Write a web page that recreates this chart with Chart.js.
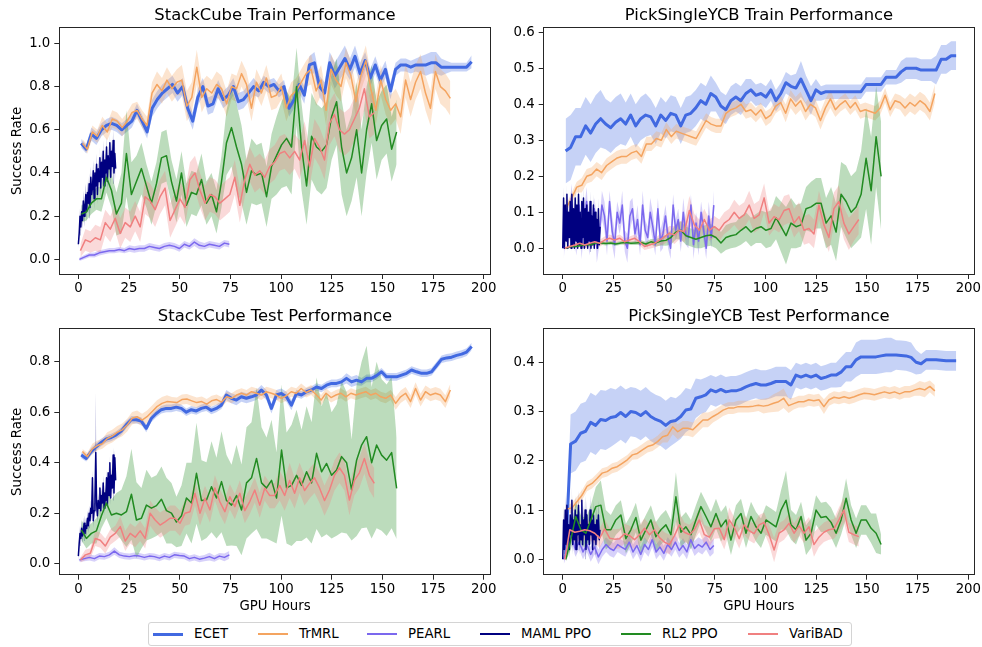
<!DOCTYPE html>
<html>
<head>
<meta charset="utf-8">
<script src="https://cdn.jsdelivr.net/npm/chart.js@4.4.1/dist/chart.umd.min.js"></script>
<style>
  html, body { margin: 0; padding: 0; background: #fff; width: 982px; height: 647px; overflow: hidden; font-family: 'DejaVu Sans', sans-serif; }
  canvas { position: absolute; }
  #legend { position: absolute; left: 148px; top: 622px; width: 704px; height: 24px; box-sizing: border-box;
            border: 1px solid #d4d4d4; border-radius: 3px; background: #fff; }
  .swatch { position: absolute; width: 30px; }
  .lbl { position: absolute; top: 3px; font-size: 13.3px; color: #000; white-space: nowrap; line-height: 16px; }
</style>
</head>
<body>
<canvas id="stackTrain" width="550" height="300" style="left:0px;top:0px"></canvas>
<canvas id="pickTrain" width="518" height="300" style="left:500px;top:0px"></canvas>
<canvas id="stackTest" width="550" height="317" style="left:0px;top:301px"></canvas>
<canvas id="pickTest" width="518" height="317" style="left:500px;top:301px"></canvas>
<div id="legend"></div>
<script>
// ---- methods and the GPU-hour span each run covers ----
const METHODS = ['ECET', 'TrMRL', 'PEARL', 'MAML PPO', 'RL2 PPO', 'VariBAD'];
const SPAN_ECET = [1.4, 194];
const SPAN_TRMRL = [2, 183.5];
const SPAN_PEARL = [0.5, 74.5];
const SPAN_MAML = [0, 18.4];
const SPAN_RL2 = [1.5, 157];
const SPAN_VARIBAD = [1, 146];

const X_TICKS = [0, 25, 50, 75, 100, 125, 150, 175, 200];
const Y_TICKS_STACK_TRAIN = [0, 0.2, 0.4, 0.6, 0.8, 1.0];
const Y_TICKS_PICK_TRAIN = [0, 0.1, 0.2, 0.3, 0.4, 0.5, 0.6];
const Y_TICKS_STACK_TEST = [0, 0.2, 0.4, 0.6, 0.8];
const Y_TICKS_PICK_TEST = [0, 0.1, 0.2, 0.3, 0.4];

// ---- StackCube train: mean success rate and spread ----
const stackTrainEcet = [0.537,0.51,0.58,0.56,0.6,0.62,0.63,0.62,0.6,0.62,0.64,0.69,0.64,0.59,0.7,0.74,0.77,0.79,0.81,0.77,0.8,0.7,0.64,0.75,0.8,0.71,0.72,0.79,0.74,0.76,0.8,0.73,0.74,0.77,0.8,0.78,0.82,0.8,0.81,0.78,0.8,0.7,0.74,0.81,0.76,0.9,0.91,0.8,0.77,0.91,0.85,0.89,0.93,0.88,0.94,0.86,0.92,0.84,0.9,0.83,0.88,0.78,0.88,0.9,0.9,0.89,0.9,0.9,0.9,0.91,0.91,0.89,0.89,0.89,0.89,0.89,0.89,0.915];
const stackTrainEcetSd = [0.02,0.02,0.03,0.03,0.03,0.03,0.03,0.03,0.03,0.03,0.03,0.03,0.03,0.03,0.04,0.04,0.04,0.04,0.04,0.04,0.04,0.04,0.04,0.04,0.04,0.04,0.04,0.04,0.04,0.04,0.04,0.04,0.04,0.04,0.04,0.03,0.03,0.03,0.03,0.03,0.03,0.04,0.04,0.04,0.04,0.04,0.05,0.05,0.05,0.05,0.06,0.06,0.06,0.05,0.05,0.05,0.04,0.04,0.04,0.04,0.04,0.04,0.03,0.03,0.03,0.03,0.03,0.04,0.05,0.05,0.05,0.04,0.03,0.02,0.02,0.02,0.02,0.03];
const stackTrainTrmrl = [0.537,0.51,0.59,0.57,0.62,0.59,0.65,0.64,0.61,0.64,0.68,0.69,0.65,0.62,0.77,0.81,0.78,0.83,0.79,0.82,0.83,0.71,0.75,0.89,0.75,0.79,0.77,0.81,0.79,0.72,0.8,0.79,0.86,0.81,0.7,0.82,0.77,0.84,0.75,0.76,0.8,0.7,0.76,0.78,0.82,0.86,0.88,0.78,0.83,0.69,0.88,0.83,0.8,0.91,0.85,0.73,0.85,0.92,0.79,0.69,0.83,0.74,0.69,0.72,0.66,0.83,0.74,0.82,0.87,0.77,0.7,0.87,0.8,0.78,0.745];
const stackTrainTrmrlSd = [0.02,0.02,0.03,0.03,0.04,0.04,0.04,0.04,0.04,0.04,0.04,0.04,0.04,0.04,0.05,0.06,0.06,0.06,0.06,0.06,0.07,0.07,0.07,0.08,0.07,0.06,0.06,0.06,0.06,0.06,0.06,0.06,0.06,0.06,0.06,0.06,0.06,0.06,0.06,0.06,0.06,0.06,0.06,0.06,0.06,0.06,0.07,0.07,0.07,0.07,0.07,0.07,0.07,0.07,0.07,0.07,0.07,0.07,0.07,0.07,0.07,0.07,0.07,0.07,0.08,0.08,0.08,0.08,0.08,0.08,0.08,0.08,0.08,0.08,0.08];
const stackTrainPearl = [0.0,0.01,0.02,0.02,0.03,0.035,0.04,0.04,0.045,0.04,0.05,0.045,0.05,0.05,0.06,0.055,0.05,0.06,0.065,0.06,0.05,0.07,0.06,0.08,0.065,0.06,0.07,0.065,0.06,0.075,0.07];
const stackTrainPearlSd = [0.008,0.01,0.01,0.012,0.012,0.012,0.012,0.012,0.012,0.012,0.015,0.015,0.015,0.015,0.015,0.015,0.015,0.015,0.015,0.015,0.015,0.015,0.015,0.018,0.018,0.015,0.015,0.015,0.015,0.015,0.015];
const stackTrainMaml = [0.07,0.12,0.2,0.15,0.22,0.18,0.27,0.2,0.25,0.3,0.22,0.31,0.26,0.35,0.24,0.38,0.3,0.33,0.41,0.28,0.4,0.34,0.44,0.3,0.42,0.36,0.47,0.33,0.45,0.38,0.5,0.34,0.46,0.4,0.52,0.36,0.48,0.42,0.54,0.38,0.5,0.43,0.55,0.4,0.49,0.42];
const stackTrainMamlSd = [0.02,0.03,0.04,0.04,0.04,0.04,0.05,0.05,0.05,0.05,0.05,0.05,0.05,0.05,0.05,0.05,0.05,0.05,0.05,0.05,0.05,0.05,0.05,0.05,0.05,0.05,0.05,0.05,0.05,0.05,0.05,0.05,0.05,0.05,0.05,0.05,0.05,0.05,0.05,0.05,0.05,0.05,0.05,0.05,0.05,0.05];
const stackTrainRl2 = [0.21,0.22,0.26,0.28,0.28,0.38,0.32,0.21,0.26,0.49,0.3,0.36,0.42,0.34,0.26,0.35,0.47,0.48,0.36,0.27,0.4,0.25,0.31,0.3,0.37,0.26,0.3,0.22,0.36,0.54,0.61,0.52,0.44,0.31,0.41,0.39,0.4,0.29,0.43,0.48,0.53,0.56,0.52,0.8,0.52,0.34,0.57,0.52,0.5,0.53,0.66,0.73,0.52,0.4,0.47,0.6,0.4,0.6,0.72,0.55,0.62,0.65,0.51,0.59];
const stackTrainRl2Sd = [0.04,0.04,0.05,0.05,0.06,0.07,0.08,0.1,0.14,0.2,0.15,0.12,0.12,0.1,0.1,0.1,0.12,0.12,0.1,0.1,0.1,0.1,0.1,0.1,0.12,0.1,0.1,0.1,0.12,0.15,0.18,0.2,0.18,0.15,0.15,0.14,0.14,0.14,0.15,0.18,0.2,0.22,0.22,0.18,0.2,0.18,0.2,0.2,0.2,0.2,0.2,0.2,0.22,0.2,0.2,0.22,0.2,0.2,0.18,0.18,0.16,0.16,0.15,0.15];
const stackTrainVaribad = [0.04,0.09,0.08,0.1,0.09,0.17,0.14,0.19,0.12,0.17,0.15,0.2,0.15,0.29,0.27,0.23,0.29,0.33,0.18,0.23,0.28,0.24,0.37,0.4,0.32,0.26,0.3,0.29,0.26,0.28,0.3,0.38,0.25,0.37,0.44,0.39,0.41,0.38,0.43,0.45,0.49,0.5,0.47,0.5,0.46,0.55,0.43,0.56,0.52,0.46,0.63,0.67,0.6,0.58,0.6,0.65,0.7,0.79,0.66,0.68];
const stackTrainVaribadSd = [0.03,0.05,0.05,0.06,0.06,0.06,0.06,0.06,0.07,0.07,0.07,0.07,0.07,0.08,0.08,0.08,0.08,0.08,0.08,0.08,0.08,0.08,0.08,0.08,0.08,0.08,0.08,0.08,0.08,0.08,0.08,0.08,0.08,0.08,0.08,0.08,0.08,0.08,0.08,0.08,0.08,0.08,0.08,0.08,0.09,0.09,0.09,0.09,0.09,0.09,0.1,0.1,0.1,0.1,0.1,0.1,0.1,0.1,0.1,0.1];

// ---- PickSingleYCB train ----
const pickTrainEcet = [0.27,0.28,0.31,0.31,0.34,0.32,0.345,0.36,0.345,0.335,0.35,0.36,0.345,0.37,0.34,0.36,0.37,0.365,0.34,0.37,0.355,0.375,0.37,0.34,0.37,0.375,0.39,0.41,0.4,0.43,0.42,0.395,0.385,0.41,0.42,0.41,0.43,0.44,0.425,0.43,0.42,0.44,0.41,0.43,0.46,0.45,0.445,0.47,0.44,0.41,0.44,0.43,0.435,0.435,0.435,0.435,0.435,0.435,0.435,0.435,0.455,0.455,0.455,0.455,0.475,0.475,0.475,0.49,0.5,0.5,0.5,0.495,0.495,0.495,0.495,0.525,0.525,0.535,0.535];
const pickTrainEcetSd = [0.09,0.09,0.08,0.08,0.08,0.08,0.08,0.08,0.07,0.07,0.07,0.07,0.06,0.06,0.06,0.06,0.06,0.05,0.05,0.05,0.05,0.05,0.05,0.05,0.05,0.05,0.05,0.05,0.05,0.05,0.04,0.04,0.04,0.04,0.04,0.04,0.04,0.03,0.03,0.03,0.03,0.03,0.03,0.03,0.03,0.03,0.04,0.05,0.04,0.04,0.03,0.02,0.02,0.02,0.02,0.02,0.02,0.02,0.02,0.02,0.02,0.02,0.02,0.02,0.02,0.02,0.02,0.03,0.03,0.03,0.03,0.03,0.03,0.03,0.04,0.04,0.04,0.04,0.04];
const pickTrainTrmrl = [0.115,0.14,0.17,0.175,0.2,0.205,0.22,0.21,0.23,0.24,0.25,0.255,0.255,0.265,0.27,0.255,0.29,0.29,0.305,0.3,0.33,0.31,0.325,0.32,0.315,0.31,0.305,0.33,0.355,0.345,0.34,0.34,0.375,0.385,0.39,0.4,0.38,0.385,0.37,0.385,0.36,0.37,0.395,0.405,0.375,0.415,0.395,0.41,0.38,0.4,0.39,0.355,0.39,0.415,0.385,0.4,0.41,0.39,0.405,0.38,0.385,0.38,0.375,0.39,0.425,0.385,0.41,0.405,0.39,0.405,0.395,0.41,0.4,0.38,0.43];
const pickTrainTrmrlSd = [0.01,0.015,0.015,0.02,0.02,0.02,0.02,0.02,0.02,0.02,0.02,0.02,0.02,0.02,0.02,0.02,0.02,0.02,0.02,0.02,0.02,0.02,0.02,0.02,0.02,0.02,0.02,0.02,0.02,0.02,0.02,0.02,0.02,0.02,0.02,0.02,0.02,0.02,0.02,0.02,0.02,0.02,0.02,0.02,0.025,0.025,0.025,0.025,0.025,0.025,0.025,0.025,0.025,0.025,0.02,0.02,0.02,0.02,0.02,0.02,0.02,0.02,0.02,0.02,0.02,0.02,0.02,0.02,0.025,0.025,0.025,0.025,0.025,0.025,0.025];
const pickTrainPearl = [0.0,0.1,0.03,0.14,0.05,0.02,0.12,0.01,0.08,0.13,0.02,0.06,0.11,0.0,0.04,0.12,0.09,0.02,0.13,0.05,0.01,0.1,0.07,0.12,0.02,0.0,0.09,0.11,0.04,0.08,0.01,0.12,0.05,0.03,0.1,0.06,0.01,0.11,0.02,0.04,0.09,0.03,0.0,0.12,0.05,0.08,0.02,0.1,0.04,0.03,0.12,0.01,0.07,0.02,0.1,0.05,0.0,0.09,0.03,0.12];
const pickTrainPearlSd = [0.03,0.04,0.03,0.04,0.03,0.04,0.03,0.04,0.03,0.04,0.04,0.04,0.03,0.04,0.03,0.04,0.04,0.04,0.03,0.04,0.04,0.03,0.03,0.04,0.03,0.04,0.04,0.03,0.03,0.04,0.03,0.04,0.03,0.03,0.04,0.04,0.03,0.03,0.03,0.04,0.03,0.03,0.03,0.03,0.03,0.03,0.03,0.04,0.03,0.03,0.03,0.04,0.03,0.04,0.03,0.03,0.03,0.04,0.03,0.04];
const pickTrainMaml = [0.0,0.14,0.0,0.12,0.02,0.15,0.0,0.1,0.03,0.13,0.0,0.15,0.01,0.11,0.0,0.14,0.02,0.12,0.0,0.15,0.01,0.1,0.0,0.13,0.03,0.14,0.0,0.11,0.01,0.12,0.0,0.1,0.02,0.13,0.0,0.09,0.01,0.12,0.0,0.1,0.02,0.08,0.0,0.11,0.01,0.06];
const pickTrainMamlSd = [0.01,0.03,0.01,0.03,0.01,0.03,0.01,0.03,0.01,0.03,0.01,0.03,0.01,0.03,0.01,0.03,0.01,0.03,0.01,0.03,0.01,0.03,0.01,0.03,0.01,0.03,0.01,0.03,0.01,0.03,0.01,0.03,0.01,0.03,0.01,0.03,0.01,0.03,0.01,0.03,0.01,0.03,0.01,0.03,0.01,0.02];
const pickTrainRl2 = [0.0,0.005,0.005,0.008,0.01,0.01,0.015,0.015,0.013,0.015,0.012,0.015,0.016,0.014,0.015,0.016,0.012,0.018,0.015,0.02,0.022,0.03,0.045,0.05,0.035,0.03,0.025,0.03,0.035,0.037,0.03,0.015,0.03,0.035,0.038,0.05,0.06,0.045,0.055,0.06,0.05,0.055,0.085,0.06,0.035,0.07,0.06,0.065,0.11,0.115,0.125,0.125,0.07,0.09,0.045,0.15,0.13,0.1,0.115,0.15,0.25,0.16,0.31,0.2];
const pickTrainRl2Sd = [0.002,0.003,0.003,0.004,0.004,0.005,0.005,0.005,0.005,0.005,0.005,0.005,0.005,0.005,0.006,0.006,0.006,0.008,0.01,0.012,0.015,0.02,0.02,0.025,0.025,0.025,0.025,0.03,0.03,0.03,0.03,0.03,0.035,0.035,0.035,0.04,0.04,0.04,0.04,0.045,0.05,0.05,0.06,0.07,0.08,0.07,0.06,0.06,0.06,0.07,0.07,0.07,0.07,0.08,0.08,0.09,0.1,0.1,0.1,0.12,0.14,0.15,0.14,0.15];
const pickTrainVaribad = [0.0,0.005,0.009,0.014,0.009,0.014,0.018,0.014,0.023,0.028,0.023,0.028,0.018,0.023,0.028,0.018,0.005,0.009,0.014,0.023,0.032,0.042,0.037,0.05,0.046,0.105,0.065,0.05,0.08,0.05,0.06,0.05,0.07,0.08,0.1,0.083,0.093,0.12,0.083,0.093,0.14,0.07,0.088,0.079,0.105,0.11,0.07,0.088,0.05,0.055,0.04,0.12,0.065,0.03,0.11,0.13,0.07,0.04,0.06,0.08];
const pickTrainVaribadSd = [0.003,0.005,0.006,0.008,0.008,0.008,0.01,0.01,0.01,0.01,0.01,0.01,0.01,0.01,0.01,0.01,0.01,0.01,0.012,0.015,0.02,0.02,0.025,0.025,0.03,0.04,0.03,0.03,0.03,0.03,0.03,0.03,0.03,0.03,0.035,0.035,0.035,0.04,0.04,0.04,0.04,0.035,0.035,0.035,0.04,0.04,0.04,0.04,0.04,0.04,0.04,0.04,0.04,0.04,0.045,0.045,0.045,0.045,0.04,0.04];

// ---- StackCube test ----
const stackTestEcet = [0.43,0.417,0.444,0.463,0.48,0.494,0.5,0.51,0.525,0.55,0.57,0.57,0.565,0.536,0.575,0.595,0.61,0.615,0.615,0.62,0.615,0.6,0.61,0.605,0.615,0.62,0.607,0.615,0.628,0.668,0.655,0.648,0.661,0.655,0.661,0.668,0.688,0.668,0.615,0.668,0.674,0.661,0.628,0.674,0.668,0.681,0.688,0.7,0.694,0.707,0.714,0.714,0.72,0.734,0.72,0.727,0.72,0.734,0.734,0.745,0.76,0.74,0.74,0.74,0.747,0.754,0.767,0.76,0.754,0.754,0.76,0.785,0.81,0.815,0.818,0.825,0.83,0.838,0.86];
const stackTestEcetSd = [0.012,0.012,0.015,0.015,0.015,0.015,0.015,0.015,0.015,0.015,0.015,0.015,0.015,0.015,0.015,0.015,0.015,0.015,0.015,0.015,0.015,0.015,0.015,0.015,0.015,0.015,0.015,0.015,0.015,0.02,0.02,0.02,0.02,0.02,0.02,0.02,0.02,0.02,0.02,0.02,0.02,0.02,0.02,0.015,0.015,0.015,0.015,0.015,0.015,0.015,0.015,0.015,0.015,0.02,0.02,0.02,0.015,0.015,0.015,0.015,0.015,0.015,0.015,0.015,0.015,0.015,0.015,0.015,0.015,0.015,0.015,0.015,0.015,0.015,0.015,0.015,0.015,0.015,0.015];
const stackTestTrmrl = [0.444,0.424,0.455,0.468,0.475,0.496,0.505,0.52,0.53,0.549,0.576,0.582,0.569,0.582,0.602,0.622,0.635,0.642,0.64,0.638,0.65,0.652,0.645,0.638,0.642,0.632,0.645,0.65,0.64,0.661,0.655,0.668,0.675,0.668,0.681,0.675,0.668,0.681,0.675,0.668,0.655,0.665,0.681,0.675,0.694,0.678,0.688,0.67,0.648,0.675,0.658,0.668,0.675,0.661,0.675,0.668,0.675,0.681,0.668,0.675,0.661,0.655,0.668,0.635,0.661,0.675,0.642,0.694,0.648,0.681,0.668,0.675,0.668,0.642,0.688];
const stackTestTrmrlSd = [0.01,0.015,0.02,0.02,0.02,0.025,0.025,0.025,0.025,0.025,0.025,0.025,0.025,0.025,0.025,0.025,0.025,0.025,0.02,0.02,0.02,0.02,0.02,0.02,0.02,0.02,0.02,0.02,0.02,0.02,0.02,0.02,0.02,0.02,0.02,0.02,0.02,0.02,0.02,0.02,0.02,0.02,0.02,0.02,0.02,0.02,0.02,0.02,0.02,0.02,0.02,0.02,0.02,0.02,0.02,0.02,0.02,0.02,0.02,0.02,0.02,0.02,0.02,0.025,0.025,0.025,0.025,0.025,0.025,0.025,0.025,0.025,0.025,0.025,0.025];
const stackTestPearl = [0.015,0.02,0.025,0.02,0.03,0.028,0.035,0.05,0.035,0.03,0.028,0.032,0.03,0.025,0.03,0.028,0.022,0.03,0.025,0.035,0.032,0.03,0.02,0.025,0.018,0.022,0.028,0.02,0.03,0.025,0.035];
const stackTestPearlSd = [0.008,0.01,0.012,0.012,0.012,0.012,0.012,0.015,0.012,0.012,0.012,0.012,0.012,0.012,0.012,0.012,0.012,0.012,0.012,0.012,0.012,0.012,0.012,0.012,0.012,0.012,0.015,0.012,0.012,0.015,0.015];
const stackTestMaml = [0.03,0.08,0.12,0.1,0.14,0.11,0.13,0.16,0.12,0.15,0.14,0.18,0.15,0.2,0.17,0.22,0.2,0.34,0.17,0.21,0.26,0.44,0.24,0.19,0.25,0.22,0.3,0.21,0.27,0.24,0.32,0.22,0.28,0.25,0.34,0.23,0.36,0.27,0.4,0.26,0.35,0.3,0.43,0.28,0.42,0.33];
const stackTestMamlSd = [0.02,0.03,0.03,0.03,0.03,0.03,0.03,0.03,0.03,0.03,0.03,0.03,0.03,0.03,0.03,0.03,0.03,0.03,0.03,0.03,0.03,0.24,0.03,0.03,0.03,0.03,0.03,0.03,0.03,0.03,0.03,0.03,0.03,0.03,0.03,0.03,0.03,0.03,0.03,0.03,0.03,0.03,0.03,0.03,0.03,0.03];
const stackTestRl2 = [0.133,0.1,0.12,0.13,0.19,0.24,0.193,0.2,0.193,0.206,0.275,0.173,0.18,0.232,0.22,0.23,0.255,0.21,0.2,0.165,0.19,0.26,0.24,0.358,0.25,0.252,0.305,0.26,0.325,0.25,0.232,0.27,0.213,0.32,0.34,0.417,0.32,0.3,0.33,0.26,0.45,0.3,0.31,0.35,0.31,0.364,0.32,0.437,0.364,0.397,0.35,0.371,0.424,0.4,0.292,0.41,0.47,0.503,0.4,0.47,0.43,0.41,0.44,0.298];
const stackTestRl2Sd = [0.04,0.04,0.04,0.05,0.05,0.06,0.06,0.08,0.1,0.14,0.18,0.15,0.12,0.14,0.12,0.12,0.13,0.13,0.12,0.1,0.12,0.14,0.16,0.2,0.16,0.15,0.18,0.16,0.2,0.18,0.16,0.2,0.18,0.22,0.22,0.28,0.22,0.2,0.24,0.18,0.26,0.22,0.24,0.26,0.22,0.26,0.24,0.3,0.26,0.28,0.25,0.26,0.3,0.28,0.2,0.3,0.33,0.36,0.3,0.33,0.3,0.3,0.3,0.2];
const stackTestVaribad = [0.015,0.035,0.041,0.1,0.093,0.07,0.105,0.12,0.147,0.09,0.12,0.105,0.13,0.1,0.2,0.173,0.153,0.166,0.18,0.18,0.16,0.2,0.206,0.279,0.2,0.259,0.213,0.3,0.245,0.206,0.265,0.226,0.279,0.21,0.246,0.292,0.232,0.299,0.27,0.27,0.31,0.27,0.33,0.279,0.34,0.29,0.318,0.34,0.3,0.25,0.292,0.35,0.38,0.35,0.252,0.33,0.36,0.417,0.35,0.318];
const stackTestVaribadSd = [0.01,0.02,0.02,0.03,0.03,0.03,0.03,0.03,0.04,0.04,0.04,0.04,0.04,0.04,0.05,0.05,0.05,0.05,0.05,0.05,0.05,0.05,0.05,0.05,0.05,0.05,0.05,0.05,0.05,0.05,0.05,0.05,0.05,0.05,0.05,0.05,0.05,0.05,0.05,0.05,0.06,0.06,0.07,0.06,0.06,0.06,0.06,0.06,0.06,0.06,0.06,0.06,0.06,0.06,0.06,0.06,0.06,0.06,0.06,0.06];

// ---- PickSingleYCB test ----
const pickTestEcet = [0.01,0.234,0.24,0.256,0.26,0.278,0.272,0.284,0.282,0.288,0.29,0.298,0.29,0.3,0.298,0.292,0.3,0.29,0.284,0.28,0.272,0.28,0.282,0.29,0.303,0.305,0.327,0.33,0.334,0.344,0.34,0.345,0.34,0.342,0.342,0.345,0.35,0.354,0.357,0.354,0.354,0.357,0.361,0.361,0.361,0.354,0.374,0.37,0.374,0.37,0.374,0.367,0.37,0.374,0.374,0.38,0.391,0.391,0.405,0.411,0.411,0.411,0.411,0.413,0.415,0.415,0.415,0.414,0.413,0.41,0.4,0.397,0.405,0.405,0.405,0.404,0.403,0.403,0.403];
const pickTestEcetSd = [0.01,0.06,0.06,0.06,0.06,0.06,0.06,0.06,0.06,0.06,0.055,0.055,0.055,0.05,0.05,0.05,0.05,0.05,0.05,0.05,0.05,0.05,0.045,0.045,0.045,0.04,0.04,0.035,0.035,0.03,0.03,0.03,0.03,0.03,0.03,0.03,0.03,0.03,0.03,0.03,0.03,0.03,0.03,0.03,0.03,0.03,0.025,0.025,0.025,0.025,0.025,0.025,0.025,0.025,0.025,0.03,0.03,0.03,0.035,0.035,0.035,0.035,0.035,0.035,0.035,0.035,0.03,0.03,0.03,0.03,0.025,0.02,0.02,0.02,0.02,0.02,0.02,0.02,0.02];
const pickTestTrmrl = [0.102,0.104,0.117,0.13,0.148,0.154,0.164,0.175,0.178,0.185,0.188,0.195,0.202,0.212,0.215,0.222,0.229,0.232,0.239,0.249,0.252,0.269,0.259,0.266,0.266,0.263,0.273,0.283,0.283,0.29,0.296,0.303,0.307,0.307,0.31,0.31,0.31,0.311,0.313,0.311,0.313,0.317,0.32,0.327,0.312,0.316,0.32,0.32,0.324,0.322,0.324,0.31,0.324,0.329,0.327,0.33,0.327,0.33,0.334,0.337,0.336,0.334,0.337,0.34,0.337,0.34,0.336,0.34,0.34,0.344,0.347,0.344,0.351,0.342];
const pickTestTrmrlSd = [0.008,0.01,0.01,0.01,0.01,0.01,0.01,0.01,0.01,0.01,0.01,0.01,0.01,0.01,0.012,0.012,0.012,0.012,0.012,0.012,0.015,0.015,0.015,0.015,0.015,0.015,0.015,0.015,0.015,0.012,0.012,0.012,0.012,0.012,0.012,0.012,0.012,0.012,0.012,0.015,0.015,0.018,0.02,0.02,0.015,0.012,0.012,0.012,0.012,0.012,0.012,0.015,0.012,0.012,0.012,0.012,0.012,0.012,0.012,0.012,0.012,0.012,0.012,0.012,0.012,0.012,0.012,0.012,0.012,0.012,0.015,0.015,0.012,0.012];
const pickTestPearl = [0.0,0.03,0.05,0.02,0.035,0.015,0.03,0.01,0.025,0.005,0.02,0.03,0.022,0.018,0.03,0.025,0.02,0.035,0.015,0.028,0.01,0.03,0.02,0.04,0.015,0.025,0.012,0.03,0.02,0.035,0.018,0.028,0.015,0.04,0.022,0.03,0.025,0.035,0.02,0.028];
const pickTestPearlSd = [0.01,0.015,0.015,0.015,0.015,0.015,0.015,0.015,0.015,0.015,0.015,0.015,0.015,0.015,0.015,0.015,0.015,0.015,0.015,0.015,0.015,0.015,0.015,0.015,0.015,0.015,0.015,0.015,0.015,0.015,0.015,0.015,0.015,0.015,0.015,0.015,0.015,0.015,0.015,0.015];
const pickTestMaml = [0.0,0.08,0.02,0.1,0.03,0.11,0.04,0.07,0.02,0.09,0.05,0.12,0.03,0.08,0.04,0.1,0.02,0.09,0.05,0.11,0.03,0.07,0.04,0.12,0.03,0.08,0.05,0.1,0.02,0.09,0.04,0.07,0.03,0.1,0.05,0.08,0.02,0.09,0.04,0.07,0.03,0.08,0.05,0.09,0.04,0.06];
const pickTestMamlSd = [0.01,0.03,0.02,0.03,0.02,0.03,0.02,0.03,0.02,0.03,0.02,0.03,0.02,0.03,0.02,0.03,0.02,0.03,0.02,0.03,0.02,0.03,0.02,0.03,0.02,0.03,0.02,0.03,0.02,0.03,0.02,0.03,0.02,0.03,0.02,0.03,0.02,0.03,0.02,0.03,0.02,0.03,0.02,0.03,0.02,0.02];
const pickTestRl2 = [0.0,0.04,0.087,0.06,0.053,0.08,0.107,0.11,0.06,0.06,0.08,0.09,0.042,0.06,0.085,0.039,0.06,0.08,0.046,0.06,0.07,0.05,0.127,0.055,0.066,0.05,0.08,0.107,0.087,0.066,0.093,0.066,0.08,0.039,0.08,0.093,0.053,0.087,0.066,0.053,0.08,0.073,0.066,0.1,0.12,0.07,0.06,0.087,0.039,0.053,0.1,0.085,0.087,0.075,0.053,0.08,0.124,0.08,0.053,0.08,0.08,0.063,0.053,0.03];
const pickTestRl2Sd = [0.005,0.02,0.03,0.03,0.03,0.03,0.04,0.05,0.04,0.03,0.03,0.03,0.03,0.03,0.03,0.03,0.03,0.03,0.03,0.03,0.03,0.03,0.05,0.03,0.03,0.03,0.03,0.03,0.03,0.03,0.03,0.03,0.03,0.03,0.03,0.03,0.03,0.03,0.03,0.03,0.03,0.03,0.03,0.04,0.06,0.03,0.03,0.03,0.03,0.03,0.03,0.03,0.03,0.03,0.03,0.03,0.04,0.03,0.03,0.03,0.03,0.03,0.04,0.02];
const pickTestVaribad = [0.0,0.06,0.055,0.057,0.06,0.058,0.053,0.043,0.062,0.043,0.041,0.042,0.052,0.048,0.04,0.05,0.063,0.05,0.06,0.044,0.035,0.03,0.048,0.07,0.055,0.05,0.06,0.08,0.05,0.045,0.062,0.063,0.04,0.08,0.065,0.042,0.07,0.058,0.052,0.07,0.075,0.05,0.019,0.053,0.06,0.073,0.053,0.068,0.053,0.066,0.03,0.045,0.055,0.06,0.062,0.08,0.1,0.055,0.05,0.046];
const pickTestVaribadSd = [0.005,0.02,0.02,0.02,0.02,0.02,0.02,0.02,0.02,0.02,0.02,0.02,0.02,0.02,0.02,0.02,0.02,0.02,0.02,0.02,0.02,0.02,0.02,0.025,0.02,0.02,0.02,0.025,0.02,0.02,0.02,0.02,0.02,0.025,0.02,0.02,0.02,0.02,0.02,0.02,0.02,0.02,0.025,0.02,0.02,0.02,0.02,0.02,0.02,0.02,0.025,0.02,0.02,0.02,0.02,0.025,0.025,0.02,0.02,0.02];

// ---- styling ----
const SPANS = [SPAN_ECET, SPAN_TRMRL, SPAN_PEARL, SPAN_MAML, SPAN_RL2, SPAN_VARIBAD];
const COLORS = ['#4169e1', '#f4a460', '#7b68ee', '#000080', '#228b22', '#f08080'];
const LINE_WIDTHS = [3, 1.5, 1.5, 1.5, 1.5, 1.5];
const BAND_ALPHA = 0.3;
const FONT = "'DejaVu Sans', 'Liberation Sans', sans-serif";
const SPINE = '#262626';
const TICK_SIZE = 13.3;
const TITLE_SIZE = 16.4;
// legend item left edges (page px)
const LEGEND_ITEM_X = [153, 258, 367, 480, 621, 748];

Chart.defaults.font.family = FONT;
Chart.defaults.color = '#000';

function withAlpha(hex, a) {
  const n = parseInt(hex.slice(1), 16);
  return `rgba(${(n >> 16) & 255},${(n >> 8) & 255},${n & 255},${a})`;
}

function buildDatasets(series) {
  const datasets = [];
  series.forEach(([mean, sd], k) => {
    const span = SPANS[k];
    const n = mean.length;
    const hours = mean.map((_, i) => span[0] + (span[1] - span[0]) * i / (n - 1));
    const lowIndex = datasets.length;
    const base = { xAxisID: 'x', yAxisID: 'y', pointRadius: 0, pointHoverRadius: 0, tension: 0 };
    datasets.push({ ...base, label: METHODS[k] + ' lower',
      data: hours.map((h, i) => ({ x: h, y: mean[i] - sd[i] })),
      borderColor: 'rgba(0,0,0,0)', borderWidth: 0, fill: false, order: 300 - k });
    datasets.push({ ...base, label: METHODS[k] + ' upper',
      data: hours.map((h, i) => ({ x: h, y: mean[i] + sd[i] })),
      borderColor: 'rgba(0,0,0,0)', borderWidth: 0, fill: lowIndex,
      backgroundColor: withAlpha(COLORS[k], BAND_ALPHA), order: 200 - k });
    datasets.push({ ...base, label: METHODS[k],
      data: hours.map((h, i) => ({ x: h, y: mean[i] })),
      borderColor: COLORS[k], borderWidth: LINE_WIDTHS[k], fill: false,
      borderJoinStyle: 'round', order: 100 - k });
  });
  return datasets;
}

function makePanel(id, cfg) {
  const tickFont = { size: TICK_SIZE, family: FONT };
  new Chart(document.getElementById(id), {
    type: 'line',
    data: { datasets: buildDatasets(cfg.series) },
    options: {
      responsive: false, animation: false, devicePixelRatio: 1, events: [],
      layout: { padding: 0 },
      plugins: {
        legend: { display: false },
        tooltip: { enabled: false },
        title: { display: true, text: cfg.title, color: '#000',
                 font: { size: TITLE_SIZE, weight: 'normal', family: FONT }, padding: { top: 5.5, bottom: 2.82 } }
      },
      scales: {
        x: {
          type: 'linear', axis: 'x', position: 'bottom', min: cfg.xMin, max: cfg.xMax,
          afterBuildTicks: s => { s.ticks = X_TICKS.map(v => ({ value: v })); },
          afterFit: s => { s.height = cfg.xHeight; },
          ticks: { autoSkip: false, maxRotation: 0, minRotation: 0, padding: 1.5, color: '#000', font: tickFont,
                   callback: v => String(v) },
          grid: { display: true, drawOnChartArea: false, drawTicks: true, tickLength: 5, color: SPINE, lineWidth: 1 },
          border: { display: true, color: SPINE, width: 1 },
          title: { display: cfg.showXTitle, text: 'GPU Hours', color: '#000', font: tickFont,
                   padding: { top: 0, bottom: 3 } }
        },
        y: {
          type: 'linear', axis: 'y', position: 'left', min: cfg.yMin, max: cfg.yMax,
          afterBuildTicks: s => { s.ticks = cfg.yTicks.map(v => ({ value: v })); },
          afterFit: s => { s.width = cfg.leftWidth; },
          ticks: { autoSkip: false, padding: 4, color: '#000', font: tickFont, callback: v => v.toFixed(1) },
          grid: { display: true, drawOnChartArea: false, drawTicks: true, tickLength: 5, color: SPINE, lineWidth: 1 },
          border: { display: true, color: SPINE, width: 1 },
          title: { display: cfg.showYTitle, text: 'Success Rate', color: '#000', font: tickFont,
                   padding: { top: 9.5, bottom: 0 } }
        },
        frameTop: {
          type: 'linear', axis: 'x', position: 'top', display: true,
          afterFit: s => { s.height = 0; },
          ticks: { display: false }, grid: { display: false, drawTicks: false },
          border: { display: true, color: SPINE, width: 1 }
        },
        frameRight: {
          type: 'linear', axis: 'y', position: 'right', display: true,
          afterFit: s => { s.width = cfg.rightWidth; },
          ticks: { display: false }, grid: { display: false, drawTicks: false },
          border: { display: true, color: SPINE, width: 1 }
        }
      }
    }
  });
}

makePanel('stackTrain', {
  title: 'StackCube Train Performance',
  series: [[stackTrainEcet, stackTrainEcetSd], [stackTrainTrmrl, stackTrainTrmrlSd], [stackTrainPearl, stackTrainPearlSd],
           [stackTrainMaml, stackTrainMamlSd], [stackTrainRl2, stackTrainRl2Sd], [stackTrainVaribad, stackTrainVaribadSd]],
  xMin: -9.4, xMax: 203.4, yMin: -0.068, yMax: 1.0713, yTicks: Y_TICKS_STACK_TRAIN,
  leftWidth: 59.3, rightWidth: 59.3, xHeight: 26, showXTitle: false, showYTitle: true
});
makePanel('pickTrain', {
  title: 'PickSingleYCB Train Performance',
  series: [[pickTrainEcet, pickTrainEcetSd], [pickTrainTrmrl, pickTrainTrmrlSd], [pickTrainPearl, pickTrainPearlSd],
           [pickTrainMaml, pickTrainMamlSd], [pickTrainRl2, pickTrainRl2Sd], [pickTrainVaribad, pickTrainVaribadSd]],
  xMin: -9.4, xMax: 202.8, yMin: -0.0714, yMax: 0.6119, yTicks: Y_TICKS_PICK_TRAIN,
  leftWidth: 43.7, rightWidth: 44, xHeight: 26, showXTitle: false, showYTitle: false
});
makePanel('stackTest', {
  title: 'StackCube Test Performance',
  series: [[stackTestEcet, stackTestEcetSd], [stackTestTrmrl, stackTestTrmrlSd], [stackTestPearl, stackTestPearlSd],
           [stackTestMaml, stackTestMamlSd], [stackTestRl2, stackTestRl2Sd], [stackTestVaribad, stackTestVaribadSd]],
  xMin: -9.4, xMax: 203.4, yMin: -0.0436, yMax: 0.9295, yTicks: Y_TICKS_STACK_TEST,
  leftWidth: 59.3, rightWidth: 59.3, xHeight: 43.3, showXTitle: true, showYTitle: true
});
makePanel('pickTest', {
  title: 'PickSingleYCB Test Performance',
  series: [[pickTestEcet, pickTestEcetSd], [pickTestTrmrl, pickTestTrmrlSd], [pickTestPearl, pickTestPearlSd],
           [pickTestMaml, pickTestMamlSd], [pickTestRl2, pickTestRl2Sd], [pickTestVaribad, pickTestVaribadSd]],
  xMin: -9.4, xMax: 202.8, yMin: -0.0312, yMax: 0.4676, yTicks: Y_TICKS_PICK_TEST,
  leftWidth: 43.7, rightWidth: 44, xHeight: 43.3, showXTitle: true, showYTitle: false
});

// shared legend below the panels
const legend = document.getElementById('legend');
METHODS.forEach((name, k) => {
  const left = LEGEND_ITEM_X[k] - 149;
  const sw = document.createElement('span');
  sw.className = 'swatch';
  sw.style.left = left + 'px';
  sw.style.height = LINE_WIDTHS[k] + 'px';
  sw.style.top = (11 - LINE_WIDTHS[k] / 2) + 'px';
  sw.style.background = COLORS[k];
  const lbl = document.createElement('span');
  lbl.className = 'lbl';
  lbl.style.left = (left + 41) + 'px';
  lbl.textContent = name;
  legend.appendChild(sw);
  legend.appendChild(lbl);
});
</script>
</body>
</html>
